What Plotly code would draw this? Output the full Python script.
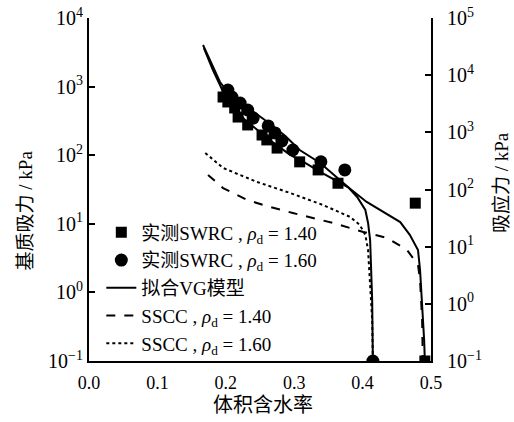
import plotly.graph_objects as go

# Measured SWRC, rho_d = 1.40 (squares)
sq_theta = [0.196, 0.203, 0.213, 0.218, 0.232, 0.253, 0.260, 0.275, 0.308, 0.335, 0.364, 0.477, 0.491]
sq_suction = [705, 597, 488, 360, 276, 197, 167, 127, 80, 61, 39, 20, 0.1]

# Measured SWRC, rho_d = 1.60 (circles)
ci_theta = [0.203, 0.209, 0.221, 0.232, 0.240, 0.262, 0.272, 0.282, 0.298, 0.339, 0.374, 0.415]
ci_suction = [891, 705, 577, 456, 348, 267, 211, 161, 119, 80, 61, 0.1]

# Fitted VG curve, rho_d = 1.40
vg14_theta = [0.168, 0.181, 0.1915, 0.200, 0.213, 0.228, 0.250, 0.272, 0.294, 0.316, 0.338, 0.360,
              0.379, 0.406, 0.430, 0.455, 0.469, 0.481, 0.484, 0.487, 0.490, 0.491]
vg14_suction = [3650, 1750, 1055, 682, 488, 326, 218, 146, 101, 77, 57, 43,
                34, 20.8, 14.9, 10.6, 6.9, 4.15, 2.12, 0.77, 0.20, 0.1]

# Fitted VG curve, rho_d = 1.60
vg16_theta = [0.1667, 0.180, 0.1915, 0.203, 0.221, 0.243, 0.265, 0.287, 0.308, 0.338, 0.360,
              0.379, 0.392, 0.404, 0.408, 0.411, 0.412, 0.414, 0.415]
vg16_suction = [4040, 2065, 1167, 834, 597, 412, 285, 190, 119, 77, 50,
                34, 24.6, 15.9, 10.3, 5.8, 2.96, 0.77, 0.1]

# SSCC, rho_d = 1.40 (suction stress, right axis)
ss14_theta = [0.174, 0.196, 0.231, 0.265, 0.298, 0.357, 0.401, 0.436, 0.465, 0.481, 0.484, 0.487, 0.488]
ss14_stress = [180, 106, 65.6, 49.4, 38.8, 25.9, 18.1, 14.2, 8.75, 4.79, 2.61, 0.52, 0.1]

# SSCC, rho_d = 1.60 (suction stress, right axis)
ss16_theta = [0.170, 0.196, 0.246, 0.294, 0.342, 0.382, 0.396, 0.404, 0.408, 0.411, 0.414, 0.415]
ss16_stress = [435, 238, 135, 87, 53.6, 33.0, 23.9, 16.0, 8.75, 2.61, 0.52, 0.1]

y_ticks_left = [0.1, 1, 10, 100, 1000, 10000]
y_labels_left = ["10<sup>−1</sup>", "10<sup>0</sup>", "10<sup>1</sup>", "10<sup>2</sup>",
                 "10<sup>3</sup>", "10<sup>4</sup>"]
y_ticks_right = [0.1, 1, 10, 100, 1000, 10000, 100000]
y_labels_right = ["10<sup>−1</sup>", "10<sup>0</sup>", "10<sup>1</sup>", "10<sup>2</sup>",
                  "10<sup>3</sup>", "10<sup>4</sup>", "10<sup>5</sup>"]
x_ticks = [0.0, 0.1, 0.2, 0.3, 0.4, 0.5]
x_labels = ["0.0", "0.1", "0.2", "0.3", "0.4", "0.5"]

x_title = "体积含水率"
y_title_left = "基质吸力 / kPa"
y_title_right = "吸应力 / kPa"

serif = "Liberation Serif, Noto Sans CJK SC"

fig = go.Figure()
fig.add_trace(go.Scatter(x=sq_theta, y=sq_suction, mode="markers",
                         marker=dict(symbol="square", size=11, color="black"),
                         name="实测SWRC , <i>ρ</i><sub>d</sub> = 1.40"))
fig.add_trace(go.Scatter(x=ci_theta, y=ci_suction, mode="markers",
                         marker=dict(symbol="circle", size=13, color="black"),
                         name="实测SWRC , <i>ρ</i><sub>d</sub> = 1.60"))
fig.add_trace(go.Scatter(x=vg14_theta, y=vg14_suction, mode="lines",
                         line=dict(color="black", width=2),
                         name="拟合VG模型"))
fig.add_trace(go.Scatter(x=vg16_theta, y=vg16_suction, mode="lines",
                         line=dict(color="black", width=2),
                         name="拟合VG模型", showlegend=False))
fig.add_trace(go.Scatter(x=ss14_theta, y=ss14_stress, mode="lines", yaxis="y2",
                         line=dict(color="black", width=2, dash="dash"),
                         name="SSCC , <i>ρ</i><sub>d</sub> = 1.40"))
fig.add_trace(go.Scatter(x=ss16_theta, y=ss16_stress, mode="lines", yaxis="y2",
                         line=dict(color="black", width=2, dash="dot"),
                         name="SSCC , <i>ρ</i><sub>d</sub> = 1.60"))

fig.update_layout(
    width=514, height=422,
    margin=dict(l=89, r=83, t=18, b=61, autoexpand=False),
    paper_bgcolor="white", plot_bgcolor="white",
    font=dict(family=serif, size=18, color="black"),
    showlegend=True,
    legend=dict(x=0.036, y=0.43, xanchor="left", yanchor="top",
                bgcolor="rgba(0,0,0,0)", font=dict(size=19, family=serif),
                tracegroupgap=0, itemsizing="trace"),
    xaxis=dict(range=[0, 0.5], tickvals=x_ticks, ticktext=x_labels, automargin=False,
               showgrid=False, zeroline=False, showline=True, linecolor="black", linewidth=2,
               ticks="", ticklabelstandoff=4, ticklabeloverflow="allow",
               tickfont=dict(size=18)),
    yaxis=dict(type="log", range=[-1, 4], tickvals=y_ticks_left, ticktext=y_labels_left,
               automargin=False, ticklabeloverflow="allow",
               showgrid=False, zeroline=False, showline=True, linecolor="black", linewidth=2,
               ticks="inside", ticklen=6, tickwidth=2, tickcolor="black",
               tickfont=dict(size=20)),
    yaxis2=dict(type="log", range=[-1, 5], overlaying="y", side="right",
                tickvals=y_ticks_right, ticktext=y_labels_right, automargin=False,
                ticklabeloverflow="allow",
                showgrid=False, zeroline=False, showline=True, linecolor="black", linewidth=2,
                ticks="inside", ticklen=6, tickwidth=2, tickcolor="black",
                ticklabelstandoff=10, tickfont=dict(size=20)),
    annotations=[
        dict(text=x_title, xref="paper", yref="paper", x=0.509, y=-0.128,
             showarrow=False, font=dict(size=20), xanchor="center", yanchor="middle"),
        dict(text=y_title_left, xref="paper", yref="paper", x=-0.186, y=0.44,
             showarrow=False, font=dict(size=19), textangle=-90,
             xanchor="center", yanchor="middle"),
        dict(text=y_title_right, xref="paper", yref="paper", x=1.208, y=0.519,
             showarrow=False, font=dict(size=19), textangle=-90,
             xanchor="center", yanchor="middle"),
    ],
)

fig.write_html("out.html", config={"displayModeBar": False},
               post_script="document.body.style.margin='0';")
